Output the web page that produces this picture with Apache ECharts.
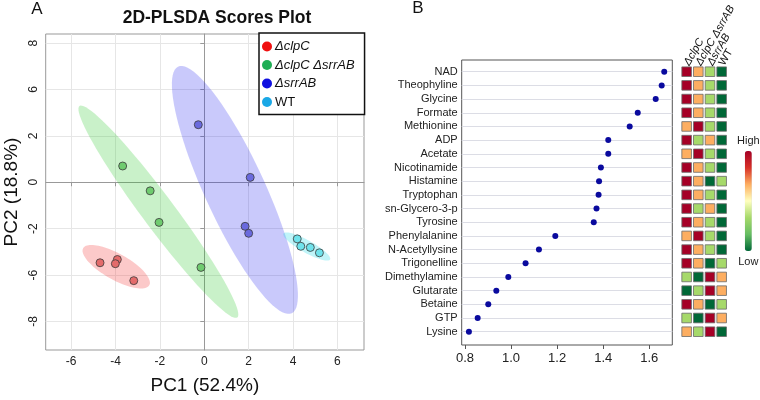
<!DOCTYPE html>
<html><head><meta charset="utf-8">
<script src="https://cdn.jsdelivr.net/npm/echarts@6/dist/echarts.min.js"></script>
<style>html,body{margin:0;padding:0;background:#fff}#c{width:760px;height:400px}</style>
</head><body><div id="c"></div>
<script>
const FONT = "'Liberation Sans', Arial, Helvetica, sans-serif";

// ---------- Panel A: PLS-DA scores ----------
const groupNames = ['ΔclpC', 'ΔclpC ΔsrrAB', 'ΔsrrAB', 'WT'];
const scoresClpC = [[-4.70, -3.47], [-3.92, -3.33], [-4.01, -3.51], [-3.18, -4.24]];
const scoresClpCSrrAB = [[-3.68, 0.70], [-2.44, -0.37], [-2.04, -1.73], [-0.15, -3.67]];
const scoresSrrAB = [[-0.27, 2.48], [2.07, 0.21], [1.84, -1.90], [2.00, -2.20]];
const scoresWT = [[4.19, -2.44], [4.35, -2.76], [4.78, -2.81], [5.19, -3.04]];
// ellipses: [centerX, centerY, semiMajor, semiMinor, angleDeg]
const ellipseClpC = [-3.97, -3.64, 1.69, 0.57, -27.9];
const ellipseClpCSrrAB = [-2.07, -1.27, 5.78, 0.72, 128];
const ellipseSrrAB = [1.38, -0.33, 5.9, 1.35, 115.8];
const ellipseWT = [4.62, -2.77, 1.19, 0.27, -28];
const xTickValuesA = [-6, -4, -2, 0, 2, 4, 6];
const yTickValuesA = [6, 4, 2, 0, -2, -4, -6];
const yTickLabelsA = ['8', '6', '2', '0', '-2', '-6', '-8'];

// ---------- Panel B: VIP scores + heat map ----------
const metabolites = ['NAD', 'Theophyline', 'Glycine', 'Formate', 'Methionine', 'ADP', 'Acetate',
  'Nicotinamide', 'Histamine', 'Tryptophan', 'sn-Glycero-3-p', 'Tyrosine', 'Phenylalanine',
  'N-Acetyllysine', 'Trigonelline', 'Dimethylamine', 'Glutarate', 'Betaine', 'GTP', 'Lysine'];
const vipScores = [1.665, 1.654, 1.628, 1.550, 1.515, 1.422, 1.422, 1.390, 1.382, 1.380,
  1.371, 1.359, 1.192, 1.121, 1.063, 0.988, 0.936, 0.901, 0.855, 0.817];
const heatColumns = ['ΔclpC', 'ΔclpC ΔsrrAB', 'ΔsrrAB', 'WT'];
// relative level per metabolite (4 = high ... 1 = low), columns as heatColumns
const heatLevels = [
  [4, 3, 2, 1], [4, 3, 2, 1], [4, 3, 2, 1], [4, 3, 2, 1], [3, 4, 2, 1],
  [4, 2, 3, 1], [3, 4, 2, 1], [4, 3, 2, 1], [4, 3, 1, 2], [4, 3, 2, 1],
  [4, 2, 3, 1], [4, 3, 2, 1], [3, 4, 2, 1], [4, 3, 2, 1], [4, 3, 1, 2],
  [2, 1, 4, 3], [1, 2, 4, 3], [4, 3, 1, 2], [2, 1, 4, 3], [3, 2, 4, 1]];
const vipTickValues = [0.8, 1.0, 1.2, 1.4, 1.6];

const pointColors = ['#e46b6b', '#6fcb6f', '#6a6ade', '#6fe3ec'];
const legendColors = ['#f01010', '#1fae55', '#1010e0', '#1aa8e6'];
const ellipseFills = ['rgba(245,60,60,0.28)', 'rgba(40,200,40,0.25)', 'rgba(40,40,240,0.25)', 'rgba(30,215,230,0.28)'];
const heatPalette = ['#006837', '#66bd63', '#a6d96a', '#ffffbf', '#fdae61', '#d73027', '#a50026'];

const ellipses = [ellipseClpC, ellipseClpCSrrAB, ellipseSrrAB, ellipseWT];
const groups = [scoresClpC, scoresClpCSrrAB, scoresSrrAB, scoresWT];

function ellipseRender(params, api) {
  const cx = api.value(0), cy = api.value(1), a = api.value(2), b = api.value(3);
  const th = api.value(4) * Math.PI / 180;
  const pts = [];
  for (let i = 0; i < 90; i++) {
    const t = i / 90 * 2 * Math.PI;
    const dx = a * Math.cos(t) * Math.cos(th) - b * Math.sin(t) * Math.sin(th);
    const dy = a * Math.cos(t) * Math.sin(th) + b * Math.sin(t) * Math.cos(th);
    pts.push(api.coord([cx + dx, cy + dy]));
  }
  return { type: 'polygon', shape: { points: pts }, style: { fill: ellipseFills[params.dataIndex] }, silent: true };
}

const italicName = n => n === 'WT' ? n : '{i|' + n + '}';

const series = [];
series.push({
  type: 'custom', name: 'ellipses', xAxisIndex: 0, yAxisIndex: 0, renderItem: ellipseRender,
  data: ellipses, encode: { x: 0, y: 1 }, z: 1, silent: true
});
groups.forEach((g, k) => {
  series.push({
    type: 'scatter', name: groupNames[k], xAxisIndex: 0, yAxisIndex: 0, data: g,
    symbolSize: 8, z: 3,
    itemStyle: { color: pointColors[k], borderColor: '#3a3a3a', borderWidth: 0.8, opacity: 1 }
  });
});
series.push({
  type: 'scatter', name: 'VIP', xAxisIndex: 2, yAxisIndex: 2,
  data: vipScores.map((v, i) => [v, i]), symbolSize: 6,
  itemStyle: { color: '#0a0a9e', opacity: 1 }, z: 3
});
const heatData = [];
heatLevels.forEach((row, i) => row.forEach((v, j) => heatData.push([j, i, v])));
const heatSeriesIndex = series.length;
series.push({
  type: 'scatter', name: 'heat', xAxisIndex: 3, yAxisIndex: 3, data: heatData,
  symbol: 'rect', symbolSize: 9.6,
  itemStyle: { borderColor: '#6a6a6a', borderWidth: 0.8, opacity: 1 }
});

const option = {
  animation: false,
  textStyle: { fontFamily: FONT },
  graphic: [
    { type: 'text', x: 37, y: 9, style: { text: 'A', font: '17px ' + FONT, fill: '#111', textAlign: 'center', textVerticalAlign: 'middle' } },
    { type: 'text', x: 418, y: 8, style: { text: 'B', font: '17px ' + FONT, fill: '#111', textAlign: 'center', textVerticalAlign: 'middle' } },
    { type: 'text', x: 217, y: 18, style: { text: '2D-PLSDA Scores Plot', font: 'bold 17.5px ' + FONT, fill: '#111', textAlign: 'center', textVerticalAlign: 'middle' } }
  ],
  legend: {
    orient: 'vertical', left: 259, top: 33, align: 'left',
    backgroundColor: '#fff', borderColor: '#111', borderWidth: 1.5, borderRadius: 0,
    padding: [7, 10, 6, 3], itemGap: 5.5, itemWidth: 10, itemHeight: 10, icon: 'circle',
    data: groupNames.map((n, k) => ({ name: n, itemStyle: { color: legendColors[k], borderWidth: 0 } })),
    formatter: italicName,
    textStyle: { fontSize: 13, color: '#111', fontFamily: FONT, padding: [0, 0, 0, -2],
      rich: { i: { fontStyle: 'italic', fontSize: 13, fontFamily: FONT, color: '#111' } } },
    selectedMode: false
  },
  grid: [
    { left: 45.7, top: 34, width: 318.3, height: 318.7, show: true, borderColor: '#999', borderWidth: 1, backgroundColor: '#fff' },
    { left: 461.7, top: 60, width: 210.6, height: 285, show: true, borderColor: '#555', borderWidth: 1 },
    { left: 461.7, top: 71.7, width: 210.6, height: 260 },
    { left: 680.8, top: 71.7, width: 46.7, height: 260 }
  ],
  xAxis: [
    {
      gridIndex: 0, type: 'value', min: -7.15, max: 7.2, minInterval: 2, maxInterval: 2,
      axisLine: { show: true, lineStyle: { color: '#999' } },
      axisTick: { show: true, length: 4, lineStyle: { color: '#999' }, customValues: xTickValuesA },
      axisLabel: { fontSize: 12, color: '#222', margin: 6, customValues: xTickValuesA },
      splitLine: { show: true, lineStyle: { color: '#e6e6e6' } },
      name: 'PC1 (52.4%)', nameLocation: 'middle', nameGap: 26,
      nameTextStyle: { fontSize: 19, color: '#111' }
    },
    {
      gridIndex: 1, type: 'value', min: 0.7857, max: 1.70, minInterval: 0.2, maxInterval: 0.2,
      axisLine: { show: false },
      axisTick: { show: true, length: 4, lineStyle: { color: '#555' }, customValues: vipTickValues },
      axisLabel: { fontSize: 13, color: '#222', margin: 7, customValues: vipTickValues, formatter: v => v.toFixed(1) },
      splitLine: { show: false }
    },
    { gridIndex: 2, type: 'value', min: 0.7857, max: 1.70, show: false },
    {
      gridIndex: 3, type: 'category', data: heatColumns, position: 'top', boundaryGap: true,
      axisLine: { show: false }, axisTick: { show: false }, splitLine: { show: false },
      axisLabel: {
        interval: 0, rotate: -60, margin: 7, fontSize: 11, color: '#111', formatter: italicName,
        align: 'left', verticalAlign: 'middle',
        rich: { i: { fontStyle: 'italic', fontSize: 11, color: '#111', fontFamily: FONT } }
      }
    }
  ],
  yAxis: [
    {
      gridIndex: 0, type: 'value', min: -7.23, max: 6.39, minInterval: 2, maxInterval: 2,
      axisLine: { show: true, lineStyle: { color: '#999' } },
      axisTick: { show: true, length: 4, lineStyle: { color: '#999' }, customValues: yTickValuesA },
      axisLabel: { fontSize: 12, color: '#222', margin: 6, rotate: 90, customValues: yTickValuesA,
        formatter: v => { const k = yTickValuesA.findIndex(t => Math.abs(t - v) < 1e-6); return k >= 0 ? yTickLabelsA[k] : ''; } },
      splitLine: { show: true, lineStyle: { color: '#e6e6e6' } },
      name: 'PC2 (18.8%)', nameLocation: 'middle', nameGap: 24,
      nameTextStyle: { fontSize: 19, color: '#111' }
    },
    { gridIndex: 1, type: 'value', min: 0, max: 1, show: false },
    {
      gridIndex: 2, type: 'category', data: metabolites, inverse: true, boundaryGap: false,
      axisLine: { show: false }, axisTick: { show: false },
      axisLabel: { fontSize: 11, color: '#222', margin: 4, interval: 0 },
      splitLine: { show: true, lineStyle: { color: '#dcdde5', width: 1.2 } }
    },
    { gridIndex: 3, type: 'category', data: metabolites, inverse: true, boundaryGap: false, show: false }
  ],
  visualMap: {
    type: 'continuous', min: 1, max: 4, seriesIndex: heatSeriesIndex, dimension: 2,
    calculable: false, orient: 'vertical', text: ['High', 'Low'], textGap: 5,
    itemWidth: 7, itemHeight: 100, left: 732, top: 130, padding: 5,
    textStyle: { fontSize: 11, color: '#222', fontFamily: FONT },
    inRange: { color: heatPalette }
  },
  series: series
};

const chart = echarts.init(document.getElementById('c'), null, { renderer: 'canvas' });
chart.setOption(option);
</script>
</body></html>
